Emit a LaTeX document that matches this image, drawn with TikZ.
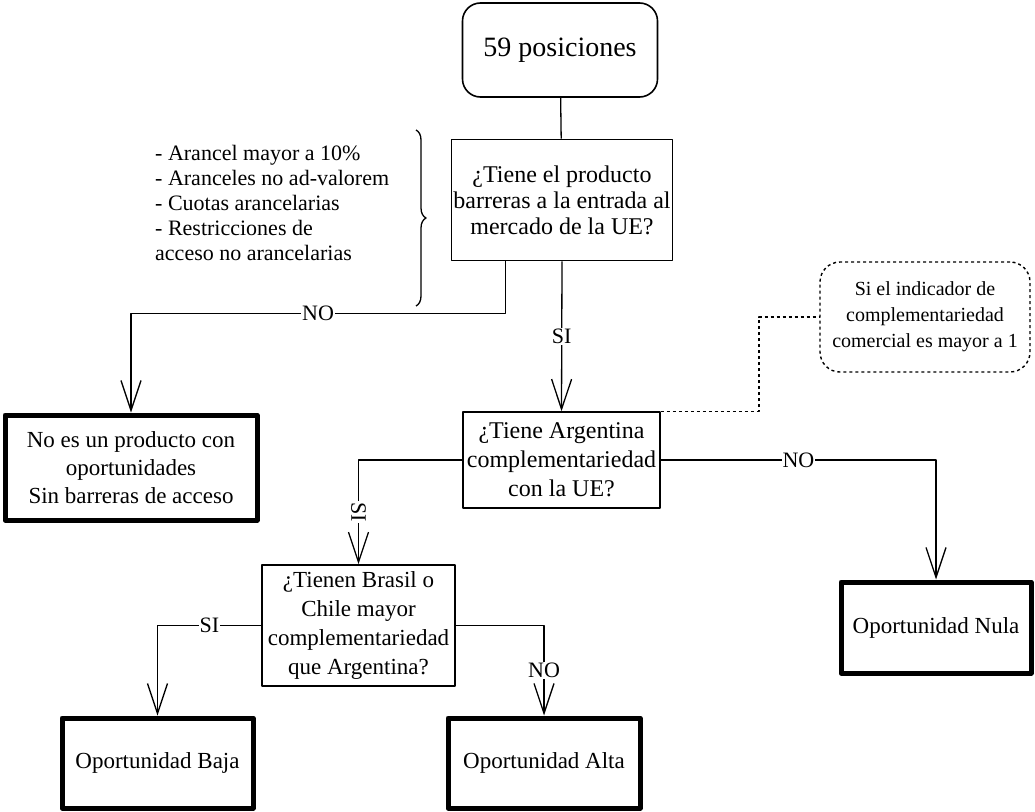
\documentclass[tikz,border=0pt]{standalone}
\usepackage{fontspec}
\setmainfont{Liberation Serif}
\usetikzlibrary{arrows.meta,calc,decorations.pathreplacing}
\begin{document}
\begin{tikzpicture}[x=1pt,y=-1pt,>={Straight Barb[length=30pt,width=20pt]},line join=round,
	caja/.style={draw,line width=1.6pt,inner sep=0pt,align=center,font=\fontsize{24}{29}\selectfont},
	inicio/.style={caja,rounded corners=18pt,font=\fontsize{28}{32}\selectfont},
	final/.style={caja,line width=5pt,font=\fontsize{23}{28}\selectfont},
	nota/.style={draw,dashed,line width=1.4pt,rounded corners=20pt,inner sep=0pt,align=center,font=\fontsize{20}{26}\selectfont},
	lista/.style={align=left,inner sep=0pt,font=\fontsize{22}{25}\selectfont},
	lbl/.style={fill=white,inner sep=1pt,font=\fontsize{22}{24}\selectfont},
	flecha/.style={->,line width=1.3pt},
	llave/.style={decorate,decoration={brace,amplitude=10pt},line width=1.3pt}]
	\useasboundingbox (0,0) rectangle (1035,811);
	% cajas
	\node[inicio,minimum width=195pt,minimum height=94pt] (inicio) at (560,50) {59 posiciones};
	\node[caja,minimum width=221pt,minimum height=121pt,font=\fontsize{24}{26}\selectfont] (qbarr) at (562,200) {¿Tiene el producto\\barreras a la entrada al\\mercado de la UE?};
	\node[lista,anchor=west] (lista) at (155,203) {- Arancel mayor a 10\%\\- Aranceles no ad-valorem\\- Cuotas arancelarias\\- Restricciones de\\acceso no arancelarias};
	\draw[llave] (416,130) -- (416,306);
	\node[caja,minimum width=197pt,minimum height=96pt] (qarg) at (561.5,460) {¿Tiene Argentina\\complementariedad\\con la UE?};
	\node[caja,minimum width=193pt,minimum height=121pt,font=\fontsize{23}{29}\selectfont] (qbrch) at (358.5,625.5) {¿Tienen Brasil o\\Chile mayor\\complementariedad\\que Argentina?};
	\node[nota,minimum width=210pt,minimum height=110pt] (nota) at (925,317) {Si el indicador de\\complementariedad\\comercial es mayor a 1};
	\node[final,minimum width=252pt,minimum height=105pt] (rnoop) at (131,467.5) {No es un producto con\\oportunidades\\Sin barreras de acceso};
	\node[final,minimum width=191pt,minimum height=90pt] (rbaja) at (157.5,763) {Oportunidad Baja};
	\node[final,minimum width=192pt,minimum height=90pt] (ralta) at (544,763) {Oportunidad Alta};
	\node[final,minimum width=190pt,minimum height=91pt] (rnula) at (936,627.5) {Oportunidad Nula};
	% conectores
	\draw[line width=1.3pt] (inicio) -- (qbarr);
	\draw[flecha] ($(qbarr.south west)!.245!(qbarr.south east)$) -- ++(0,52) -| node[lbl,pos=.25]{NO} (rnoop.north);
	\draw[flecha] (qbarr.south) -- node[lbl]{SI} (qarg.north);
	\draw[flecha] (qarg.west) -| node[lbl,pos=.75,rotate=-90]{SI} (qbrch.north);
	\draw[flecha] (qarg.east) -| node[lbl,pos=.25]{NO} (rnula.north);
	\draw[flecha] (qbrch.west) -| node[lbl,pos=.25]{SI} (rbaja.north);
	\draw[flecha] (qbrch.east) -| node[lbl,pos=.75]{NO} (ralta.north);
	\draw[dashed,line width=1.4pt] (qarg.north east) -- ++(98,0) |- (nota.west);
\end{tikzpicture}
\end{document}
